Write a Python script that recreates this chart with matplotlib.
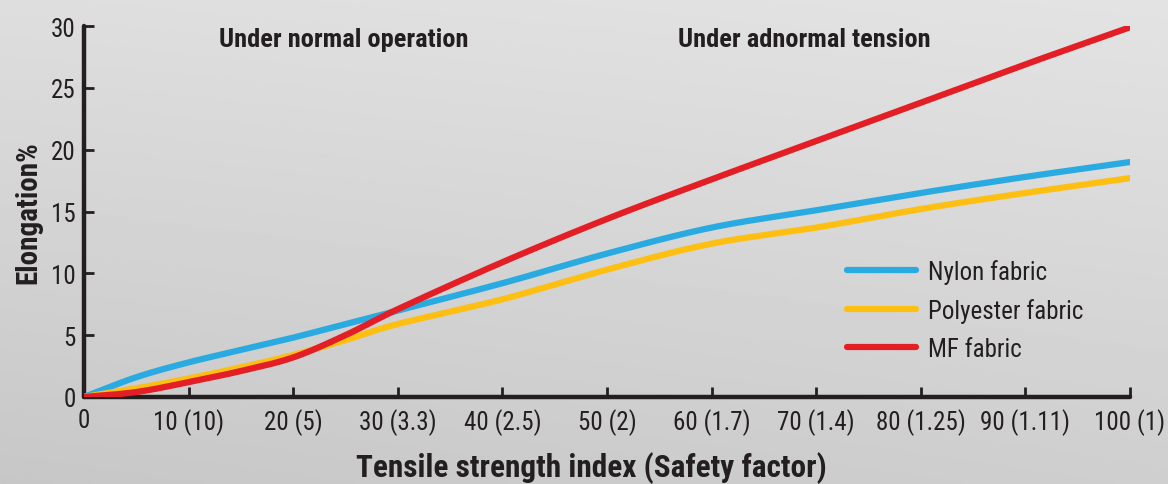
import numpy as np
import matplotlib
matplotlib.use("Agg")
import matplotlib.pyplot as plt
from matplotlib import font_manager

# ---- data ----
x_index = [0, 5, 10, 15, 20, 25, 30, 40, 50, 60, 70, 80, 90, 100]
nylon = [0, 1.6, 2.8, 3.8, 4.8, 5.9, 7.0, 9.2, 11.6, 13.7, 15.1, 16.5, 17.8, 19.0]
polyester = [0, 0.7, 1.5, 2.4, 3.4, 4.6, 5.9, 7.9, 10.3, 12.4, 13.7, 15.2, 16.5, 17.7]
mf = [0, 0.4, 1.2, 2.1, 3.2, 5.0, 7.1, 10.9, 14.4, 17.6, 20.7, 23.8, 26.9, 29.9]
xtick_vals = [0, 10, 20, 30, 40, 50, 60, 70, 80, 90, 100]
xtick_labels = ["0", "10 (10)", "20 (5)", "30 (3.3)", "40 (2.5)", "50 (2)",
                "60 (1.7)", "70 (1.4)", "80 (1.25)", "90 (1.11)", "100 (1)"]
ytick_vals = [0, 5, 10, 15, 20, 25, 30]
series_names = ["Nylon fabric", "Polyester fabric", "MF fabric"]

installed = {f.name for f in font_manager.fontManager.ttflist}
fam = [f for f in ["Liberation Sans Narrow", "Roboto Condensed", "Liberation Sans", "DejaVu Sans"] if f in installed]
plt.rcParams["font.family"] = fam


def smooth(xs, ys, n=30):
    # Catmull-Rom rendering of the line through the given points
    xs = np.asarray(xs, float); ys = np.asarray(ys, float)
    P = np.column_stack([xs, ys])
    P = np.vstack([2 * P[0] - P[1], P, 2 * P[-1] - P[-2]])
    out = []
    t = np.linspace(0, 1, n, endpoint=False)[:, None]
    for i in range(1, len(P) - 2):
        p0, p1, p2, p3 = P[i - 1], P[i], P[i + 1], P[i + 2]
        seg = 0.5 * ((2 * p1) + (-p0 + p2) * t + (2 * p0 - 5 * p1 + 4 * p2 - p3) * t ** 2
                     + (-p0 + 3 * p1 - 3 * p2 + p3) * t ** 3)
        out.append(seg)
    out.append(P[-2][None, :])
    out = np.vstack(out)
    return out[:, 0], out[:, 1]


fig = plt.figure(figsize=(11.68, 4.85), dpi=100)

# background gradient
bg = fig.add_axes([0, 0, 1, 1], zorder=-10)
yy, xx = np.mgrid[0:1:200j, 0:1:400j]
shade = 0.87 - 0.06 * (yy) - 0.03 * (1 - xx) * yy + 0.02 * xx * (1 - yy)
bg.imshow(shade, cmap="gray", vmin=0, vmax=1, aspect="auto", extent=[0, 1, 0, 1])
bg.set_axis_off()

ax = fig.add_axes([0.0719, 0.1794, 0.8956, 0.7649])
ax.patch.set_alpha(0)

colors = ["#29abe2", "#fdbf12", "#e31e25"]
for ys, c, name in zip([nylon, polyester, mf], colors, series_names):
    sx, sy = smooth(x_index, ys)
    ax.plot(sx, sy, color=c, lw=4.5, solid_capstyle="round", label=name, zorder=3)

ax.set_xlim(0, 100)
ax.set_ylim(0, 30)
ax.set_xticks(xtick_vals)
ax.set_xticklabels(xtick_labels)
ax.set_yticks(ytick_vals)
for s in ["top", "right"]:
    ax.spines[s].set_visible(False)
for s in ["left", "bottom"]:
    ax.spines[s].set_linewidth(3.2)
    ax.spines[s].set_color("#231f20")
    ax.spines[s].set_capstyle("round")
ax.tick_params(direction="in", length=7, width=2, color="#231f20",
               labelsize=18, labelcolor="#231f20", pad=8)
ax.tick_params(axis="y", pad=6)

ax.set_xlabel("Tensile strength index (Safety factor)", fontsize=22.5, fontweight="bold",
              color="#231f20")
ax.xaxis.set_label_coords(0.485, -0.145)
ax.set_ylabel("Elongation%", fontsize=21, fontweight="bold", color="#231f20", labelpad=6)

ax.text(0.129, 0.965, "Under normal operation", transform=ax.transAxes, fontsize=19,
        fontweight="bold", color="#231f20", va="center", ha="left")
ax.text(0.568, 0.965, "Under adnormal tension", transform=ax.transAxes, fontsize=19,
        fontweight="bold", color="#231f20", va="center", ha="left")

leg = ax.legend(loc="upper left", bbox_to_anchor=(0.708, 0.432), frameon=False,
                fontsize=18, handlelength=2.75, handletextpad=0.5, labelspacing=0.55,
                labelcolor="#231f20")
for h in leg.get_lines():
    h.set_linewidth(4.5)
    h.set_solid_capstyle("round")

fig.savefig("out.png", dpi=100)
